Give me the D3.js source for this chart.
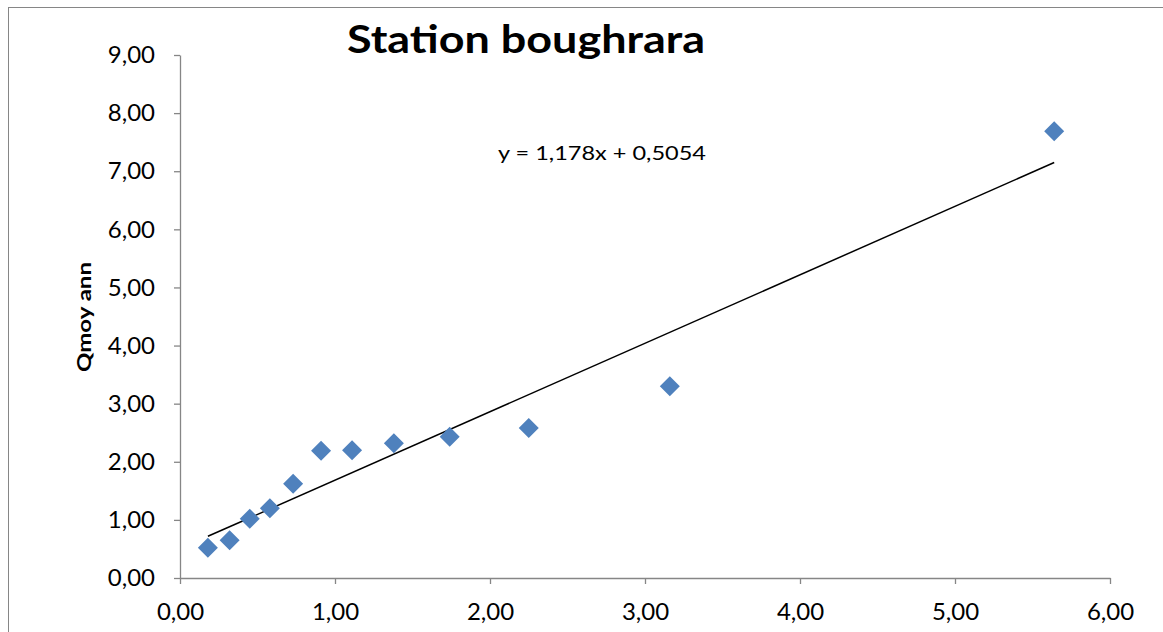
<!DOCTYPE html>
<html><head><meta charset="utf-8">
<script src="https://cdn.jsdelivr.net/npm/d3@7"></script>
<style>body{margin:0;background:#fff}svg{display:block}</style>
</head><body>
<svg id="c" width="1163" height="632"></svg>
<script>
const xValues = [0.18, 0.32, 0.45, 0.58, 0.73, 0.91, 1.11, 1.38, 1.74, 2.25, 3.16, 5.64];
const yValues = [0.52, 0.65, 1.02, 1.20, 1.62, 2.19, 2.20, 2.32, 2.43, 2.58, 3.30, 7.69];
const xTicks = [0, 1, 2, 3, 4, 5, 6];
const yTicks = [0, 1, 2, 3, 4, 5, 6, 7, 8, 9];
const slope = 1.178, intercept = 0.5054;
const titleText = "Station boughrara";
const yLabel = "Qmoy ann";
const eqText = "y = 1,178x + 0,5054";

const svg = d3.select("#c");
const font = "Lato, 'Open Sans', sans-serif";
const fmt = v => d3.format(".2f")(v).replace(".", ",");

// frame
svg.append("rect").attr("x", 8.5).attr("y", 7.5).attr("width", 1170).attr("height", 640)
  .attr("fill", "#fff").attr("stroke", "#868686").attr("stroke-width", 1);

const x = d3.scaleLinear().domain([0, 6]).range([180, 1110]);
const y = d3.scaleLinear().domain([0, 9]).range([578, 55]);

const xAxis = svg.append("g").attr("transform", "translate(0,578)")
  .call(d3.axisBottom(x).tickValues(xTicks).tickFormat(fmt).tickSizeInner(6).tickSizeOuter(0).tickPadding(19));
const yAxis = svg.append("g").attr("transform", "translate(180,0)")
  .call(d3.axisLeft(y).tickValues(yTicks).tickFormat(fmt).tickSizeInner(6).tickSizeOuter(0).tickPadding(19));
[xAxis, yAxis].forEach(g => {
  g.select(".domain").attr("stroke", "#868686").attr("stroke-width", 1.3);
  g.selectAll(".tick line").attr("stroke", "#868686").attr("stroke-width", 1.3);
  g.selectAll(".tick text").attr("fill", "#000").style("font-family", font).style("font-size", "24px");
});

// trendline
const x0 = d3.min(xValues), x1 = d3.max(xValues);
svg.append("line")
  .attr("x1", x(x0)).attr("y1", y(slope * x0 + intercept))
  .attr("x2", x(x1)).attr("y2", y(slope * x1 + intercept))
  .attr("stroke", "#000").attr("stroke-width", 1.5);

// markers
const sym = d3.symbol().type(d3.symbolSquare).size(200);
svg.append("g").selectAll("path").data(xValues.map((v, i) => [v, yValues[i]]))
  .join("path")
  .attr("d", sym)
  .attr("transform", d => `translate(${x(d[0])},${y(d[1])}) rotate(45)`)
  .attr("fill", "#4F81BD");

// title
svg.append("text").attr("x", 347).attr("y", 53)
  .attr("textLength", 358).attr("lengthAdjust", "spacingAndGlyphs")
  .style("font-family", font).style("font-weight", "bold").style("font-size", "39px").text(titleText);

// equation
svg.append("text").attr("x", 498).attr("y", 160)
  .attr("textLength", 208).attr("lengthAdjust", "spacingAndGlyphs")
  .style("font-family", font).style("font-size", "20px").text(eqText);

// y label
svg.append("text").attr("transform", "translate(91,372) rotate(-90)")
  .attr("textLength", 110).attr("lengthAdjust", "spacingAndGlyphs")
  .style("font-family", font).style("font-weight", "bold").style("font-size", "19px").text(yLabel);
</script>
</body></html>
